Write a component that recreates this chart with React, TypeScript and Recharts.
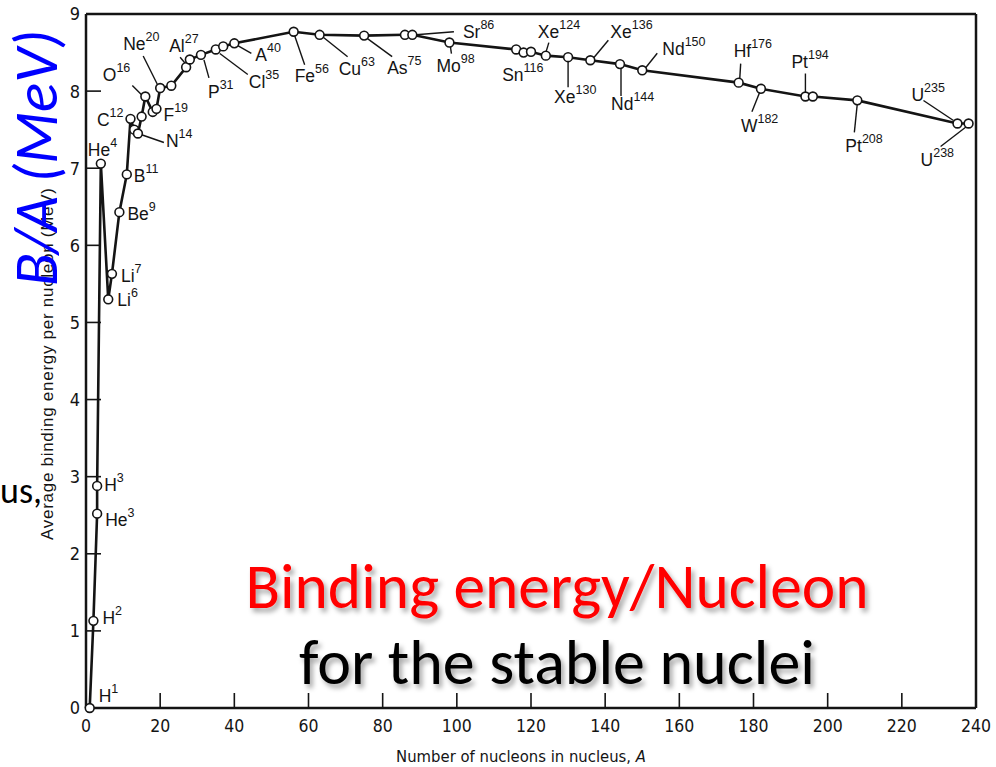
import React from 'react';
import { LineChart, Line, XAxis, YAxis } from 'recharts';

// ---- data ----
const massNumbers = [1, 2, 3, 3, 4, 6, 7, 9, 11, 12, 13, 14, 15, 16, 18, 19, 20, 23, 27, 28, 31, 35, 37, 40, 56, 63, 75, 86, 88, 98, 116, 118, 120, 124, 130, 136, 144, 150, 176, 182, 194, 196, 208, 235, 238];
const bindingPerNucleon = [0, 1.13, 2.52, 2.88, 7.06, 5.3, 5.63, 6.43, 6.92, 7.64, 7.5, 7.45, 7.67, 7.93, 7.73, 7.77, 8.04, 8.07, 8.31, 8.41, 8.47, 8.54, 8.58, 8.62, 8.77, 8.73, 8.72, 8.73, 8.73, 8.63, 8.54, 8.5, 8.51, 8.46, 8.44, 8.4, 8.35, 8.27, 8.11, 8.03, 7.93, 7.93, 7.88, 7.58, 7.58];
const elementSymbols = ['H', 'H', 'He', 'H', 'He', 'Li', 'Li', 'Be', 'B', 'C', '', 'N', '', 'O', '', 'F', 'Ne', '', 'Al', '', 'P', 'Cl', '', 'A', 'Fe', 'Cu', 'As', 'Sr', '', 'Mo', 'Sn', '', '', 'Xe', 'Xe', 'Xe', 'Nd', 'Nd', 'Hf', 'W', 'Pt', '', 'Pt', 'U', 'U'];
const xTicks = [0, 20, 40, 60, 80, 100, 120, 140, 160, 180, 200, 220, 240];
const yTicks = [0, 1, 2, 3, 4, 5, 6, 7, 8, 9];

const data = massNumbers.map((m, i) => ({ mass: m, be: bindingPerNucleon[i], symbol: elementSymbols[i] }));

// ---- label placement (pixel offsets from each marker) ----
type Lay = { dx: number; dy: number; anchor?: 'start' | 'end'; leader?: [number, number, number, number] };
const labelLayout: Record<string, Lay> = {
  H1: { dx: 9, dy: -6 },
  H2: { dx: 9, dy: 3 },
  He3: { dx: 8, dy: 12 },
  H3: { dx: 7, dy: 5 },
  He4: { dx: -13, dy: -8 },
  Li6: { dx: 9, dy: 7 },
  Li7: { dx: 9, dy: 8 },
  Be9: { dx: 8, dy: 8 },
  B11: { dx: 7, dy: 8 },
  C12: { dx: -7, dy: 7, anchor: 'end' },
  N14: { dx: 28, dy: 13, leader: [3, 1, 26, 9] },
  O16: { dx: -15, dy: -16, anchor: 'end', leader: [-13, -11, -4, -2] },
  F19: { dx: 7, dy: 12 },
  Ne20: { dx: -37, dy: -38, leader: [-17, -32, -3, -4] },
  Al27: { dx: -17, dy: -15, leader: [-6, -10, -1, -4] },
  P31: { dx: 7, dy: 43, leader: [3, 5, 8, 23] },
  Cl35: { dx: 33, dy: 39, leader: [4, 4, 32, 25] },
  A40: { dx: 21, dy: 18, leader: [3, 2, 17, 10] },
  Fe56: { dx: 1, dy: 50, leader: [1, 4, 11, 33] },
  Cu63: { dx: 19, dy: 40, leader: [3, 2, 28, 22] },
  As75: { dx: 23, dy: 38, leader: [2, 2, 28, 21] },
  Sr86: { dx: 58, dy: 3, leader: [11, 0, 49, -3] },
  Mo98: { dx: -13, dy: 29, leader: [1, 4, 2, 11] },
  Sn116: { dx: -14, dy: 32 },
  Xe124: { dx: -8, dy: -18, leader: [0, -3, 3, -13] },
  Xe130: { dx: -14, dy: 46, leader: [0, 3, 0, 30] },
  Xe136: { dx: 20, dy: -22, leader: [3, -2, 18, -20] },
  Nd144: { dx: -9, dy: 46, leader: [1, 3, 1, 32] },
  Nd150: { dx: 20, dy: -15, leader: [3, -2, 15, -17] },
  Hf176: { dx: -5, dy: -26, leader: [1, -3, 2, -19] },
  W182: { dx: -20, dy: 43, leader: [-1, 3, -9, 23] },
  Pt194: { dx: -14, dy: -29, leader: [0, -3, 0, -23] },
  Pt208: { dx: -12, dy: 52, leader: [0, 3, -3, 32] },
  U235: { dx: -46, dy: -22, leader: [-34, -23, -4, -3] },
  U238: { dx: -48, dy: 43, leader: [-28, 23, -2, 3] },
};

const SCAN_FONT = "'Liberation Sans', Arial, Helvetica, sans-serif";
const TICK_FONT = "'Liberation Sans Narrow', 'DejaVu Sans Condensed', 'Liberation Sans', sans-serif";
const SLIDE_FONT = "Carlito, Calibri, 'Open Sans', sans-serif";
const INK = '#141414';

const renderDot = (props: any) => {
  const { cx, cy, index, payload } = props;
  if (cx == null || cy == null) return <g key={`d${index}`} />;
  const name = payload.symbol ? `${payload.symbol}${payload.mass}` : '';
  const lay = name ? labelLayout[name] : undefined;
  return (
    <g key={`d${index}`}>
      {lay && lay.leader && (
        <line
          x1={cx + lay.leader[0]}
          y1={cy + lay.leader[1]}
          x2={cx + lay.leader[2]}
          y2={cy + lay.leader[3]}
          stroke={INK}
          strokeWidth={1.4}
        />
      )}
      <circle cx={cx} cy={cy} r={4.4} fill="#fff" stroke={INK} strokeWidth={1.6} />
      {lay && (
        <text
          x={cx + lay.dx}
          y={cy + lay.dy}
          textAnchor={lay.anchor || 'start'}
          fontSize={17.5}
          fontFamily={SCAN_FONT}
          fill={INK}
        >
          {payload.symbol}
          <tspan fontSize={12.5} dy={-9}>
            {payload.mass}
          </tspan>
        </text>
      )}
    </g>
  );
};

export default function App() {
  return (
    <div style={{ position: 'absolute', left: 0, top: 0, width: 996, height: 767, background: '#fff' }}>
      <LineChart width={996} height={767} data={data} margin={{ top: 0, right: 0, bottom: 0, left: 0 }}>
        <XAxis
          xAxisId="bottom"
          dataKey="mass"
          type="number"
          orientation="bottom"
          domain={[0, 240]}
          ticks={xTicks}
          interval={0}
          height={59}
          tickSize={-15}
          tickMargin={27}
          axisLine={{ stroke: INK, strokeWidth: 2.5 }}
          tickLine={{ stroke: INK, strokeWidth: 1.6 }}
          tick={{ fill: INK, fontSize: 17.5, fontFamily: TICK_FONT }}
        />
        <XAxis
          xAxisId="top"
          dataKey="mass"
          type="number"
          orientation="top"
          domain={[0, 240]}
          ticks={xTicks}
          interval={0}
          height={14}
          tickSize={-15}
          tick={false}
          axisLine={{ stroke: INK, strokeWidth: 2.5 }}
          tickLine={{ stroke: INK, strokeWidth: 1.6 }}
        />
        <YAxis
          yAxisId="left"
          type="number"
          domain={[0, 9]}
          ticks={yTicks}
          interval={0}
          width={86}
          tickSize={-15}
          tickMargin={21}
          axisLine={{ stroke: INK, strokeWidth: 2.5 }}
          tickLine={{ stroke: INK, strokeWidth: 1.6 }}
          tick={{ fill: INK, fontSize: 18, fontFamily: TICK_FONT }}
        />
        <YAxis
          yAxisId="right"
          orientation="right"
          type="number"
          domain={[0, 9]}
          ticks={yTicks}
          interval={0}
          width={20}
          tickSize={-15}
          tick={false}
          axisLine={{ stroke: INK, strokeWidth: 2.5 }}
          tickLine={{ stroke: INK, strokeWidth: 1.6 }}
        />
        <Line
          xAxisId="top"
          yAxisId="right"
          dataKey="be"
          stroke="none"
          dot={false}
          activeDot={false}
          isAnimationActive={false}
        />
        <Line
          xAxisId="bottom"
          yAxisId="left"
          dataKey="be"
          type="linear"
          stroke={INK}
          strokeWidth={2.6}
          dot={renderDot}
          activeDot={false}
          isAnimationActive={false}
        />
      </LineChart>
      <svg width={996} height={767} style={{ position: 'absolute', left: 0, top: 0, pointerEvents: 'none' }}>
        <defs>
          <filter id="softShadow" x="-10%" y="-40%" width="125%" height="190%">
            <feDropShadow dx="3" dy="4" stdDeviation="2.5" floodColor="#000" floodOpacity="0.35" />
          </filter>
        </defs>
        <text
          transform="translate(53,364) rotate(-90)"
          textAnchor="middle"
          fontSize={17}
          fontFamily={SCAN_FONT}
          fill={INK}
          textLength={352}
          lengthAdjust="spacing"
        >
          Average binding energy per nucleon (MeV)
        </text>
        <text x={521} y={762} textAnchor="middle" fontSize={16.5} fontFamily={TICK_FONT} fill={INK}>
          Number of nucleons in nucleus, <tspan fontStyle="italic">A</tspan>
        </text>
        <text
          transform="translate(57,158) rotate(-90)"
          textAnchor="middle"
          fontSize={61}
          fontStyle="italic"
          fontFamily={SLIDE_FONT}
          fill="#0000ff"
        >
          B/A (MeV)
        </text>
        <text x={0} y={503} textAnchor="start" fontSize={36} fontFamily={SLIDE_FONT} fill="#000">
          us,
        </text>
        <text
          x={557}
          y={608}
          textAnchor="middle"
          fontSize={63.5}
          fontFamily={SLIDE_FONT}
          fill="#ff0000"
          filter="url(#softShadow)"
        >
          Binding energy/Nucleon
        </text>
        <text
          x={557}
          y={684}
          textAnchor="middle"
          fontSize={64}
          fontFamily={SLIDE_FONT}
          fill="#000"
          filter="url(#softShadow)"
        >
          for the stable nuclei
        </text>
      </svg>
    </div>
  );
}
